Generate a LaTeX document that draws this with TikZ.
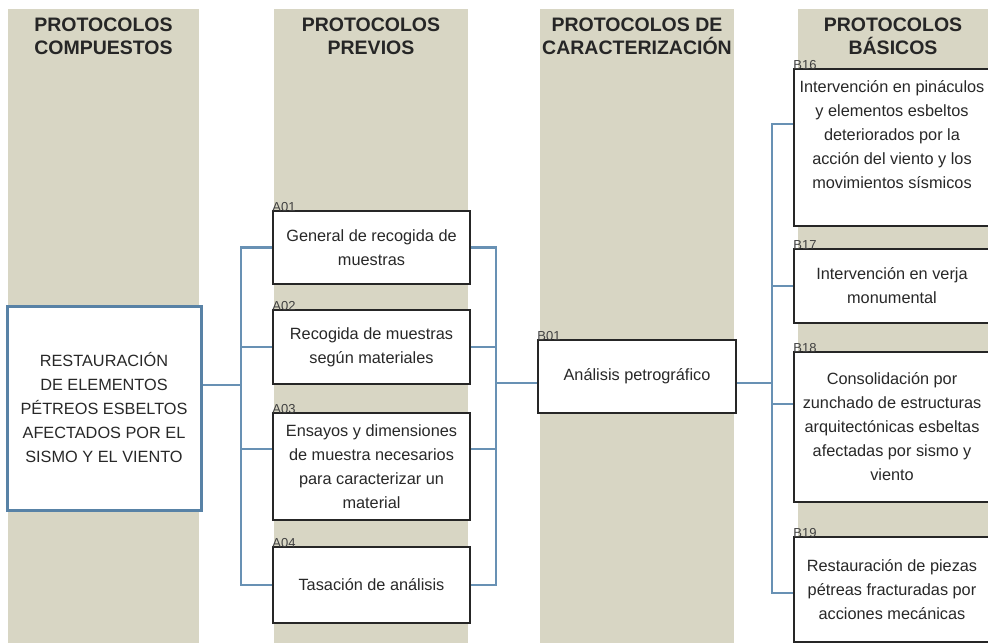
\documentclass[tikz,border=0pt]{standalone}
\usepackage{fontspec}
\setmainfont{Liberation Sans}
\definecolor{prot_band}{RGB}{216, 214, 196}
\definecolor{prot_line}{RGB}{104, 145, 180}
\definecolor{prot_main}{RGB}{88, 130, 166}
\definecolor{prot_text}{RGB}{40, 40, 40}
\usetikzlibrary{positioning, calc}

\begin{document}
\begin{tikzpicture}[x=1pt, y=-1pt,
    band/.style={fill=prot_band, draw=none},
    hdr/.style={align=center, font=\fontsize{19.5}{23}\selectfont\bfseries, text=black!85},
    blk/.style={rectangle, draw=black!85, line width=1.6pt, fill=white, align=center,
                inner sep=0pt, text=prot_text, font=\fontsize{16.3}{24}\selectfont,
                minimum width=197pt},
    mainblk/.style={blk, draw=prot_main, line width=3pt},
    conn/.style={prot_line, line width=2.5pt},
    lbl/.style={anchor=base west, inner sep=0pt, font=\fontsize{13}{13}\selectfont,
                text=black!75, yshift=-1pt},
  ]
    \useasboundingbox (0,0) rectangle (988,643);

    % Column bands
    \fill[band] (8,9)   rectangle (199,643);
    \fill[band] (274,9) rectangle (468,643);
    \fill[band] (540,9) rectangle (734,643);
    \fill[band] (798,9) rectangle (988,643);

    \node[hdr] (h1) at (103.5,36) {PROTOCOLOS\\COMPUESTOS};
    \node[hdr] (h2) at (371,36)   {PROTOCOLOS\\PREVIOS};
    \node[hdr] (h3) at (637,36)   {PROTOCOLOS DE\\CARACTERIZACIÓN};
    \node[hdr] (h4) at (893,36)   {PROTOCOLOS\\BÁSICOS};

    \node[mainblk, minimum width=194pt, minimum height=204pt] (main) at (104,408)
      {RESTAURACIÓN\\DE ELEMENTOS\\PÉTREOS ESBELTOS\\AFECTADOS POR EL\\SISMO Y EL VIENTO};

    \node[blk, minimum height=73pt] (A01) at (371.5,247.5)
      {General de recogida de\\muestras};
    \node[blk, minimum height=74pt] (A02) at (371.5,347)
      {Recogida de muestras\\según materiales};
    \node[blk, minimum height=107pt] (A03) at (371.5,466.5)
      {Ensayos y dimensiones\\de muestra necesarios\\para caracterizar un\\material};
    \node[blk, minimum height=76pt] (A04) at (371.5,585)
      {Tasación de análisis};

    \node[blk, minimum width=198pt, minimum height=73pt] (B01) at (637,376.5)
      {Análisis petrográfico};

    \node[blk, minimum width=196pt, minimum height=157pt, text depth=27pt] (B16) at (892,147.5)
      {Intervención en pináculos\\y elementos esbeltos\\deteriorados por la\\acción del viento y los\\movimientos sísmicos};
    \node[blk, minimum width=196pt, minimum height=74pt] (B17) at (892,286)
      {Intervención en verja\\monumental};
    \node[blk, minimum width=196pt, minimum height=150pt] (B18) at (892,427)
      {Consolidación por\\zunchado de estructuras\\arquitectónicas esbeltas\\afectadas por sismo y\\viento};
    \node[blk, minimum width=196pt, minimum height=105pt] (B19) at (892,589.5)
      {Restauración de piezas\\pétreas fracturadas por\\acciones mecánicas};

    % Codes
    \node[lbl] (lA01) at (A01.north west) {A01};
    \node[lbl] (lA02) at (A02.north west) {A02};
    \node[lbl] (lA03) at (A03.north west) {A03};
    \node[lbl] (lA04) at (A04.north west) {A04};
    \node[lbl] (lB01) at (B01.north west) {B01};
    \node[lbl] (lB16) at (B16.north west) {B16};
    \node[lbl] (lB17) at (B17.north west) {B17};
    \node[lbl] (lB18) at (B18.north west) {B18};
    \node[lbl] (lB19) at (B19.north west) {B19};

    % Connectors
    \coordinate (jA) at (241,385);
    \coordinate (jB) at (496,383);
    \coordinate (jC) at (772,383);

    \draw[conn] ([yshift=23pt]main.east) -- (jA);
    \draw[conn] (jA) |- (A01.west);
    \draw[conn] (jA) |- (A02.west);
    \draw[conn] (jA) |- ([yshift=17.5pt]A03.west);
    \draw[conn] (jA) |- (A04.west);

    \draw[conn] (A01.east) -| (jB);
    \draw[conn] (A02.east) -| (jB);
    \draw[conn] ([yshift=17.5pt]A03.east) -| (jB);
    \draw[conn] (A04.east) -| (jB);
    \draw[conn] (jB) -- ([yshift=-6.5pt]B01.west);

    \draw[conn] ([yshift=-6.5pt]B01.east) -- (jC);
    \draw[conn] (jC) |- ([yshift=23.5pt]B16.west);
    \draw[conn] (jC) |- (B17.west);
    \draw[conn] (jC) |- ([yshift=23pt]B18.west);
    \draw[conn] (jC) |- ([yshift=-3.5pt]B19.west);
  \end{tikzpicture}
\end{document}
